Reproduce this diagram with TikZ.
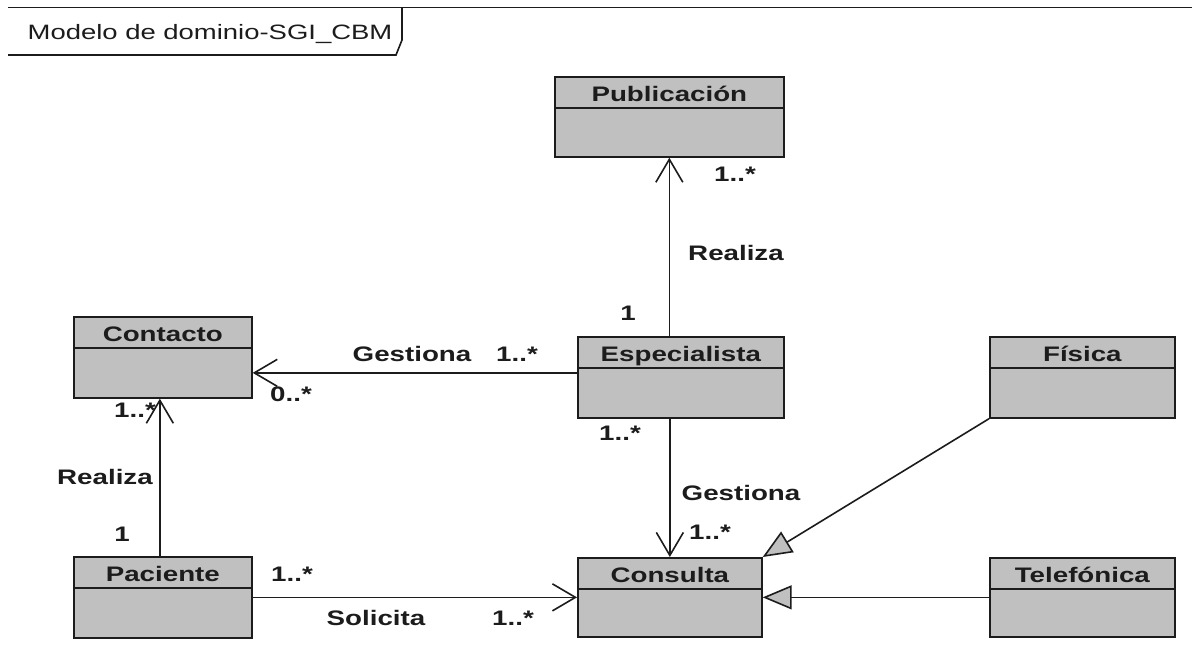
\documentclass[tikz,border=0pt]{standalone}
\usepackage{fontspec}
\setmainfont{Liberation Sans}[FakeStretch=1.32]
\usetikzlibrary{arrows.meta}
\definecolor{boxgray}{HTML}{C0C0C0}
\definecolor{ink}{HTML}{1C1C1C}

% class box: name, left x, top y, width, height, class title
\newcommand{\umlclass}[6]{%
  \node[classbox, minimum width=#4pt, minimum height=#5pt] (#1) at (#2,#3) {};
  \draw[ink, line width=1.7pt] ([yshift=-32pt]#1.north west) -- ([yshift=-32pt]#1.north east);
  \node[classname] (#1-title) at ([yshift=-25pt]#1.north) {#6};}

\begin{document}
\begin{tikzpicture}[x=1pt,y=-1pt,
  font=\fontsize{21}{25}\selectfont\bfseries,
  classbox/.style={draw=ink, fill=boxgray, line width=1.7pt, inner sep=0pt, anchor=north west},
  classname/.style={anchor=base, text=ink, inner sep=0pt},
  lbl/.style={text=ink, inner sep=0pt},
  assoc/.style={draw=ink, line width=1.6pt, -{Straight Barb[length=23pt,width=27pt,line width=1.6pt]}},
  gen/.style={draw=ink, line width=1.6pt, -{Triangle[open,length=29pt,width=24pt,fill=boxgray,line width=1.6pt]}},
]
\useasboundingbox (0,0) rectangle (1192,657);
\fill[white] (0,0) rectangle (1192,657);

% diagram frame and its name tab
\draw[ink, line width=1.6pt] (8,7.5) -- (1192,7.5);
\draw[ink, line width=1.6pt] (8,55) -- (396,55) -- (402,40) -- (402,7.5);
\node[anchor=base, text=ink, inner sep=0pt, font=\fontsize{20.8}{25}\selectfont] (title) at (210,39.5) {Modelo de dominio-SGI\_CBM};

% classes
\umlclass{pub}{554}{76}{229}{80}{Publicación}
\umlclass{con}{73}{316}{178}{81}{Contacto}
\umlclass{esp}{577}{336}{206}{81}{Especialista}
\umlclass{fis}{989}{336}{185}{81}{Física}
\umlclass{pac}{73}{556}{178}{81}{Paciente}
\umlclass{cons}{577}{557}{184}{79}{Consulta}
\umlclass{tel}{989}{557}{185}{79}{Telefónica}

% associations
\draw[assoc] (esp.north -| pub.south) -- (pub.south);
\draw[assoc] ([yshift=4.5pt]esp.west) -- ([yshift=4.5pt]esp.west -| con.east);
\draw[assoc] ([xshift=-3pt]pac.north) -- ([xshift=-3pt]pac.north |- con.south);
\draw[assoc] (esp.south -| cons.north) -- (cons.north);
\draw[assoc] (pac.east) -- (cons.west);

% generalizations
\draw[gen] (fis.south west) -- (cons.north east);
\draw[gen] (tel.west) -- (cons.east);

% association names and multiplicities
\node[lbl] (m1) at (735,174) {1..*};
\node[lbl] (a1) at (736,253) {Realiza};
\node[lbl] (m2) at (628,313) {1};
\node[lbl] (a2) at (412,354) {Gestiona};
\node[lbl] (m3) at (517,354) {1..*};
\node[lbl] (m4) at (291,394) {0..*};
\node[lbl] (m5) at (135,410) {1..*};
\node[lbl] (a3) at (105,477) {Realiza};
\node[lbl] (m6) at (122,534) {1};
\node[lbl] (m7) at (292,574) {1..*};
\node[lbl] (a4) at (376,618) {Solicita};
\node[lbl] (m8) at (513,618) {1..*};
\node[lbl] (m9) at (620,433) {1..*};
\node[lbl] (a5) at (741,493) {Gestiona};
\node[lbl] (m10) at (710,532) {1..*};
\end{tikzpicture}
\end{document}
